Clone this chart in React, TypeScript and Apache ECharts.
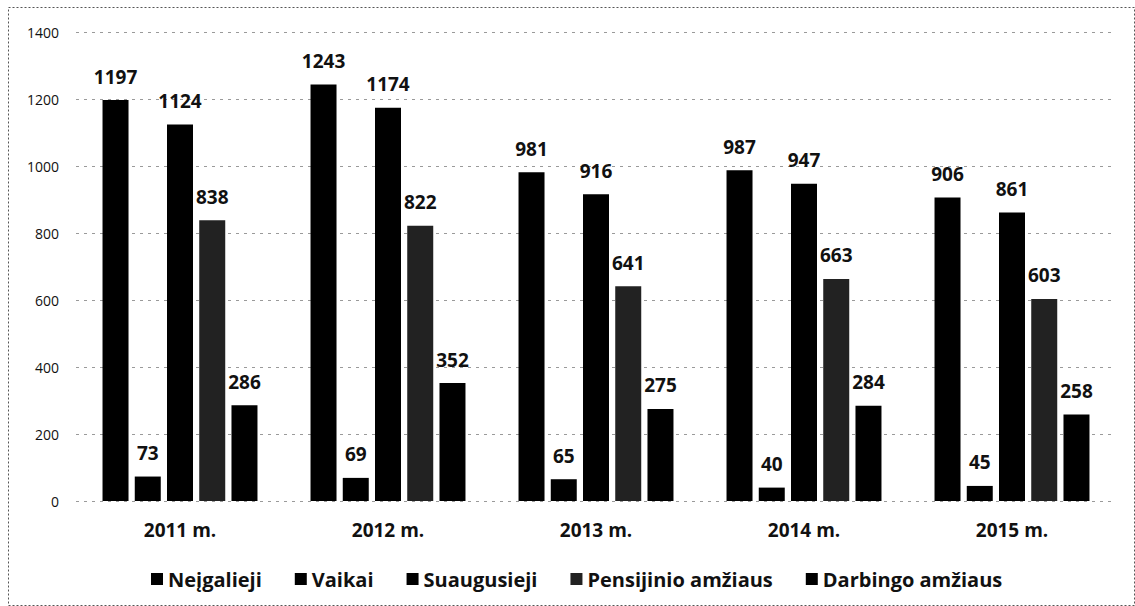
import React, { useEffect, useRef } from "react";
import * as echarts from "echarts";

const categories = ["2011 m.", "2012 m.", "2013 m.", "2014 m.", "2015 m."];
const seriesNames = ["Neįgalieji", "Vaikai", "Suaugusieji", "Pensijinio amžiaus", "Darbingo amžiaus"];
const neigalieji = [1197, 1243, 981, 987, 906];
const vaikai = [73, 69, 65, 40, 45];
const suaugusieji = [1124, 1174, 916, 947, 861];
const pensijinio = [838, 822, 641, 663, 603];
const darbingo = [286, 352, 275, 284, 258];
const colors = ["#000000", "#000000", "#000000", "#222222", "#000000"];

const FONT = "'Open Sans', 'DejaVu Sans', sans-serif";

export default function App() {
  const ref = useRef<HTMLDivElement>(null);
  useEffect(() => {
    if (!ref.current) return;
    const chart = echarts.init(ref.current, undefined, { renderer: "svg" });
    const data = [neigalieji, vaikai, suaugusieji, pensijinio, darbingo];
    chart.setOption({
      animation: false,
      backgroundColor: "#ffffff",
      grid: { left: 76, right: 19, top: 32, bottom: 105, containLabel: false },
      legend: {
        left: 146,
        top: 564,
        itemWidth: 12,
        itemHeight: 12,
        itemGap: 33,
        icon: "rect",
        textStyle: { fontFamily: FONT, fontSize: 20, fontWeight: "bold", color: "#111" },
        data: seriesNames,
      },
      xAxis: {
        type: "category",
        data: categories,
        axisLine: { show: false },
        axisTick: { show: false },
        axisLabel: { fontFamily: FONT, fontSize: 19, fontWeight: "bold", color: "#111", margin: 19 },
      },
      yAxis: {
        type: "value",
        min: 0,
        max: 1400,
        interval: 200,
        axisLine: { show: false },
        axisTick: { show: false },
        axisLabel: {
          fontFamily: FONT,
          fontSize: 14,
          color: "#111",
          margin: 17,
          formatter: (v: number) => String(v),
        },
        splitLine: { lineStyle: { color: "#9a9a9a", type: [3, 5], width: 1 } },
      },
      graphic: [
        {
          type: "rect",
          shape: { x: 8.5, y: 7.5, width: 1126, height: 598 },
          style: { fill: "none", stroke: "#555", lineWidth: 1, lineDash: [2, 2] },
          silent: true,
        },
      ],
      series: seriesNames.map((name, i) => ({
        name,
        type: "bar",
        data: data[i],
        barWidth: 26,
        barGap: "24%",
        itemStyle: { color: colors[i] },
        label: {
          show: true,
          position: "top",
          distance: 14,
          fontFamily: FONT,
          fontSize: 19,
          fontWeight: "bold",
          color: "#111",
        },
      })),
    });
    return () => chart.dispose();
  }, []);
  return <div ref={ref} style={{ width: 1135, height: 606, position: "absolute", left: 0, top: 0 }} />;
}
